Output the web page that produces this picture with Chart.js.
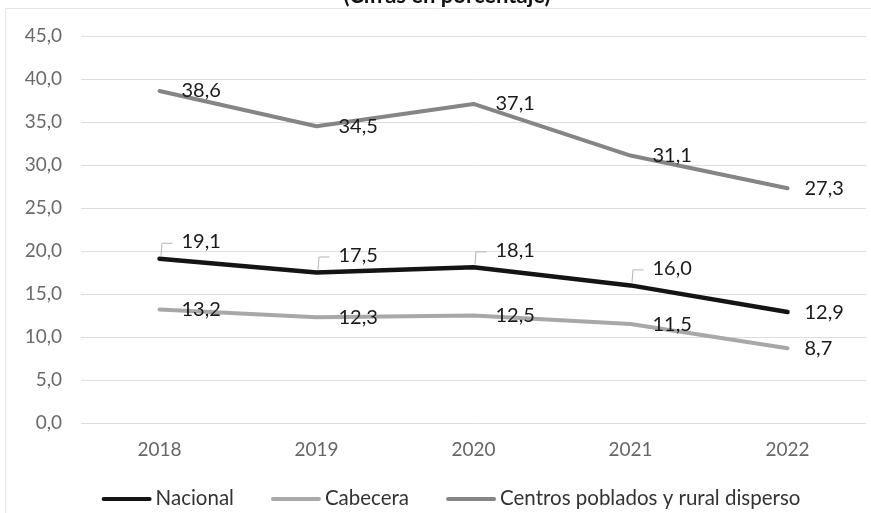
<!DOCTYPE html>
<html>
<head>
<meta charset="utf-8">
<script src="https://cdn.jsdelivr.net/npm/chart.js@4.4.0/dist/chart.umd.min.js"></script>
<style>
  html, body { margin: 0; padding: 0; background: #ffffff; }
  #wrap { position: relative; width: 871px; height: 513px; overflow: hidden; }
</style>
</head>
<body>
<div id="wrap"><canvas id="chart" width="871" height="513"></canvas></div>
<script>
// Categories and series (percent)
const years = ['2018', '2019', '2020', '2021', '2022'];
const nacional = [19.1, 17.5, 18.1, 16.0, 12.9];
const cabecera = [13.2, 12.3, 12.5, 11.5, 8.7];
const centros = [38.6, 34.5, 37.1, 31.1, 27.3];
const yTickValues = [0, 5, 10, 15, 20, 25, 30, 35, 40, 45];
const seriesNames = ['Nacional', 'Cabecera', 'Centros poblados y rural disperso'];
const titleText = '(Cifras en porcentaje)';

const FONT = 'Lato, "Open Sans", sans-serif';
const fmt = v => v.toFixed(1).replace('.', ',');

// Title, frame, value labels and legend drawn on the chart canvas
const decorations = {
  id: 'decorations',
  beforeDraw(chart) {
    const ctx = chart.ctx;
    ctx.save();
    ctx.fillStyle = '#ffffff';
    ctx.fillRect(0, 0, chart.width, chart.height);
    ctx.strokeStyle = '#e4e4e4';
    ctx.lineWidth = 1;
    ctx.beginPath();
    ctx.moveTo(5.5, chart.height);
    ctx.lineTo(5.5, 8.5);
    ctx.lineTo(chart.width, 8.5);
    ctx.stroke();
    ctx.font = 'bold 22px ' + FONT;
    ctx.fillStyle = '#111111';
    ctx.textAlign = 'center';
    ctx.textBaseline = 'alphabetic';
    ctx.fillText(titleText, 447, 3);
    ctx.restore();
  },
  afterDatasetsDraw(chart) {
    const ctx = chart.ctx;
    ctx.save();
    ctx.font = '20px ' + FONT;
    ctx.fillStyle = '#1a1a1a';
    ctx.textAlign = 'left';
    ctx.textBaseline = 'middle';
    chart.data.datasets.forEach((ds, i) => {
      const meta = chart.getDatasetMeta(i);
      meta.data.forEach((pt, j) => {
        const last = j === ds.data.length - 1;
        const dx = last ? 17 : 22;
        const lifted = ds.label === seriesNames[0] && !last;
        const dy = lifted ? -17 : 0;
        const lx = pt.x + dx;
        const ly = pt.y + dy;
        if (lifted) {
          ctx.strokeStyle = '#b5b5b5';
          ctx.lineWidth = 1;
          ctx.beginPath();
          ctx.moveTo(pt.x + 1.5, pt.y - 3);
          ctx.lineTo(pt.x + 2.5, ly + 1.5);
          ctx.lineTo(pt.x + 13, ly + 1.5);
          ctx.stroke();
        }
        ctx.fillText(fmt(ds.data[j]), lx, ly);
      });
    });
    ctx.restore();
  },
  afterDraw(chart) {
    const ctx = chart.ctx;
    ctx.save();
    ctx.font = '20.5px ' + FONT;
    ctx.textBaseline = 'middle';
    ctx.textAlign = 'left';
    const lineLen = 50, gapText = 4, gapItem = 37, y = 498;
    const items = chart.data.datasets.map(ds => ({
      label: ds.label, color: ds.borderColor, w: ctx.measureText(ds.label).width
    }));
    const total = items.reduce((s, it) => s + lineLen + gapText + it.w, 0) + gapItem * (items.length - 1);
    let x = 451 - total / 2;
    items.forEach(it => {
      ctx.strokeStyle = it.color;
      ctx.lineWidth = 4;
      ctx.lineCap = 'round';
      ctx.beginPath();
      ctx.moveTo(x + 2, y + 1);
      ctx.lineTo(x + lineLen - 2, y + 1);
      ctx.stroke();
      ctx.fillStyle = '#333333';
      ctx.fillText(it.label, x + lineLen + gapText, y);
      x += lineLen + gapText + it.w + gapItem;
    });
    ctx.restore();
  }
};

new Chart(document.getElementById('chart'), {
  type: 'line',
  data: {
    labels: years,
    datasets: [
      { label: seriesNames[0], data: nacional, borderColor: '#141414', borderWidth: 4.5 },
      { label: seriesNames[1], data: cabecera, borderColor: '#a8a8a8', borderWidth: 4 },
      { label: seriesNames[2], data: centros, borderColor: '#858585', borderWidth: 4 }
    ]
  },
  options: {
    responsive: false,
    animation: false,
    devicePixelRatio: 1,
    layout: { padding: { left: 0, top: 36, right: 5, bottom: 0 } },
    elements: {
      line: { tension: 0, fill: false, borderCapStyle: 'round', borderJoinStyle: 'round' },
      point: { radius: 0, hoverRadius: 0 }
    },
    plugins: {
      legend: { display: false },
      title: { display: false },
      tooltip: { enabled: false }
    },
    scales: {
      x: {
        offset: true,
        grid: { display: false },
        border: { display: false },
        ticks: { color: '#666666', font: { family: FONT, size: 19 }, padding: 7 },
        afterFit(scale) { scale.height = 90; }
      },
      y: {
        min: 0,
        max: 45,
        afterBuildTicks(scale) { scale.ticks = yTickValues.map(v => ({ value: v })); },
        grid: { color: '#dedede', lineWidth: 1, drawTicks: false },
        border: { display: false },
        ticks: {
          color: '#6a6a6a',
          font: { family: FONT, size: 19 },
          padding: 19,
          callback: v => fmt(v)
        },
        afterFit(scale) { scale.width = 81; }
      }
    }
  },
  plugins: [decorations]
});
</script>
</body>
</html>
